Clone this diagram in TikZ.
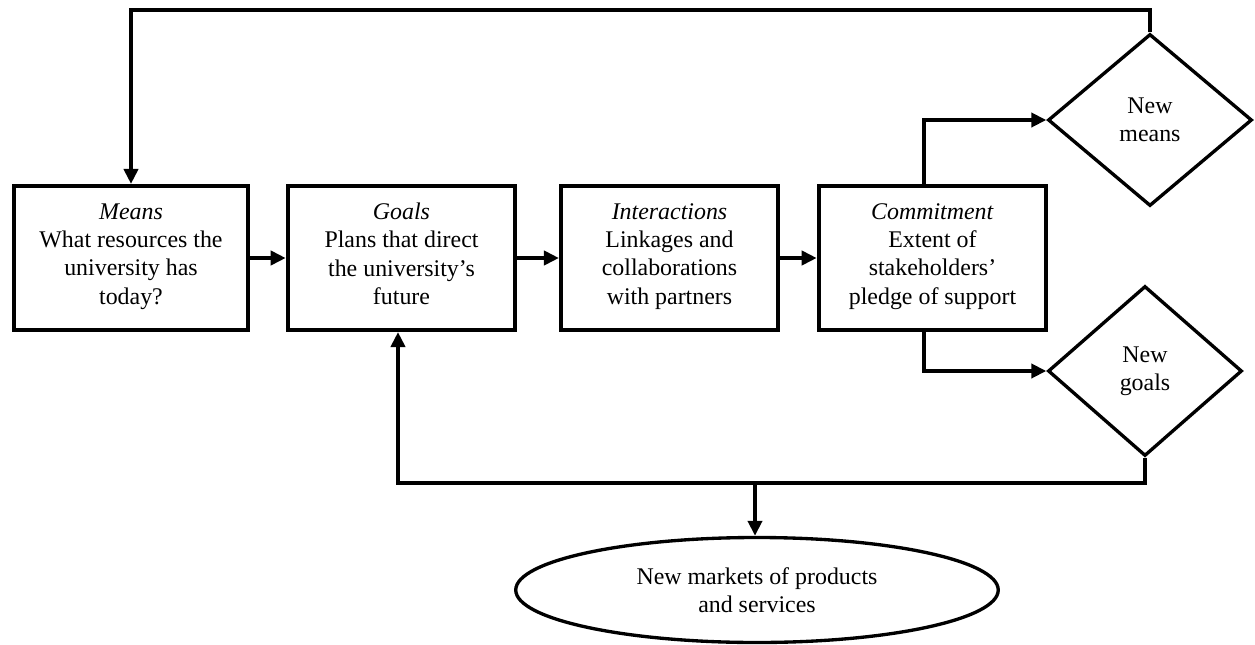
\documentclass[tikz,border=0pt]{standalone}
\usepackage{fontspec}
\setmainfont{Liberation Serif}
\usepackage{tikz}
\usetikzlibrary{arrows.meta,shapes.geometric,positioning}
\newcommand{\flowarrow}{-{Triangle[length=0.3cm,width=0.28cm]}}

\begin{document}
\begin{tikzpicture}[
		box/.style={draw, line width=2.3pt, minimum height=2.88cm, align=center, inner sep=0pt, font=\fontsize{13.6}{16.1}\selectfont},
		choice/.style={draw, diamond, line width=1.9pt, inner sep=0pt, align=center, font=\fontsize{13.6}{16.1}\selectfont},
		outcome/.style={draw, ellipse, line width=1.9pt, inner sep=0pt, align=center, font=\fontsize{13.6}{16.1}\selectfont},
		flow/.style={line width=2.3pt},
	]
					\useasboundingbox (0,0) rectangle (25.1,-12.9);
					\node[box, minimum width=4.68cm] (means) at (2.62,-5.16) {\textit{Means}\\What resources the\\university has\\today?\strut};
					\node[box, minimum width=4.55cm] (goals) at (8.03,-5.16) {\textit{Goals}\\Plans that direct\\the university’s\\future\strut};
					\node[box, minimum width=4.34cm] (inter) at (13.39,-5.16) {\textit{Interactions}\\Linkages and\\collaborations\\with partners\strut};
					\node[box, minimum width=4.55cm] (commit) at (18.65,-5.16) {\textit{Commitment}\\Extent of\\stakeholders’\\pledge of support\strut};
					\node[choice, minimum width=4.08cm, minimum height=3.44cm] (nmeans) at (23.0,-2.4) {New\\means};
					\node[choice, minimum width=3.88cm, minimum height=3.4cm] (ngoals) at (22.9,-7.42) {New\\goals};
					\node[outcome, minimum width=9.65cm, minimum height=2.1cm] (market) at (15.14,-11.8) {New markets of products\\and services};
					\coordinate (top) at (0,-0.2);
					\coordinate (bus) at (15.1,-9.66);
					\draw[flow,\flowarrow] (means) -- (goals);
					\draw[flow,\flowarrow] (goals) -- (inter);
					\draw[flow,\flowarrow] (inter) -- (commit);
					\draw[flow,\flowarrow] ([xshift=-0.17cm]commit.north) |- (nmeans.west);
					\draw[flow,\flowarrow] ([xshift=-0.17cm]commit.south) |- (ngoals.west);
					\draw[flow,\flowarrow] (nmeans.north) -- (nmeans.north |- top) -| (means.north);
					\draw[flow,\flowarrow] (ngoals.south) |- (bus) -| ([xshift=-0.07cm]goals.south);
					\draw[flow,\flowarrow] (bus) -- (bus |- market.north);
				\end{tikzpicture}
\end{document}
